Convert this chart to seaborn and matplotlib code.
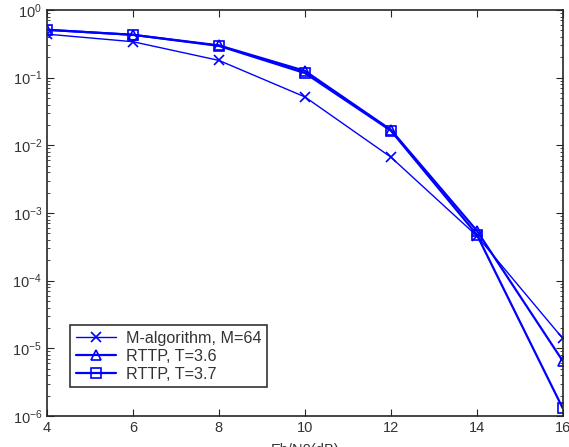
import matplotlib
matplotlib.use("Agg")
import matplotlib.pyplot as plt
import seaborn as sns
import pandas as pd
import numpy as np

snr = [4, 6, 8, 10, 12, 14, 16]
ber_malg = [0.44, 0.34, 0.18, 0.052, 0.0067, 4.6e-4, 1.4e-5]
ber_t36 = [0.51, 0.43, 0.30, 0.126, 0.017, 5.5e-4, 6.5e-6]
ber_t37 = [0.51, 0.43, 0.295, 0.117, 0.0165, 4.8e-4, 1.3e-6]
labels = ["M-algorithm, M=64", "RTTP, T=3.6", "RTTP, T=3.7"]
xticks = [4, 6, 8, 10, 12, 14, 16]

df = pd.DataFrame({
    "snr": snr * 3,
    "ber": ber_malg + ber_t36 + ber_t37,
    "series": [labels[0]] * 7 + [labels[1]] * 7 + [labels[2]] * 7,
})

sns.set_style("ticks")
plt.rcParams["font.family"] = ["Liberation Sans", "DejaVu Sans"]
plt.rcParams["mathtext.default"] = "regular"

fig = plt.figure(figsize=(5.69, 4.47), dpi=100)
ax = fig.add_axes([0.0826, 0.0694, 0.9064, 0.9082])

markers = {labels[0]: "x", labels[1]: "^", labels[2]: "s"}
widths = {labels[0]: 1.0, labels[1]: 1.6, labels[2]: 1.6}
handles = []
for lab in labels:
    sub = df[df.series == lab]
    sns.lineplot(data=sub, x="snr", y="ber", ax=ax, color="#0000ff",
                 marker=markers[lab], markersize=7, markerfacecolor="none",
                 markeredgecolor="#0000ff", markeredgewidth=1.2,
                 linewidth=widths[lab], legend=False)
    handles.append(ax.get_lines()[-1])

ax.set_yscale("log")
ax.set_xlim(4, 16)
ax.set_ylim(1e-6, 1)
ax.set_xticks(xticks)
ax.set_xticklabels([str(v) for v in xticks])
ax.tick_params(which="both", direction="in", top=True, right=True,
               labelsize=10.5, labelcolor="#333333")
ax.tick_params(which="major", length=5)
ax.tick_params(which="minor", length=2.5)
for s in ax.spines.values():
    s.set_linewidth(1.2)
    s.set_visible(True)
ax.set_xlabel("Eb/N0(dB)", fontsize=10.5, labelpad=6, color="#333333")
ax.set_ylabel("BER", fontsize=10.5, labelpad=12, color="#333333")

leg = ax.legend(handles, labels, loc="lower left", bbox_to_anchor=(0.045, 0.071),
                fontsize=11.6, frameon=True, fancybox=False, edgecolor="black",
                borderpad=0.35, handlelength=2.5, handletextpad=0.6,
                labelspacing=0.18, borderaxespad=0)
leg.get_frame().set_linewidth(1.2)
for t in leg.get_texts():
    t.set_color("#333333")

fig.savefig("out.png", dpi=100)
